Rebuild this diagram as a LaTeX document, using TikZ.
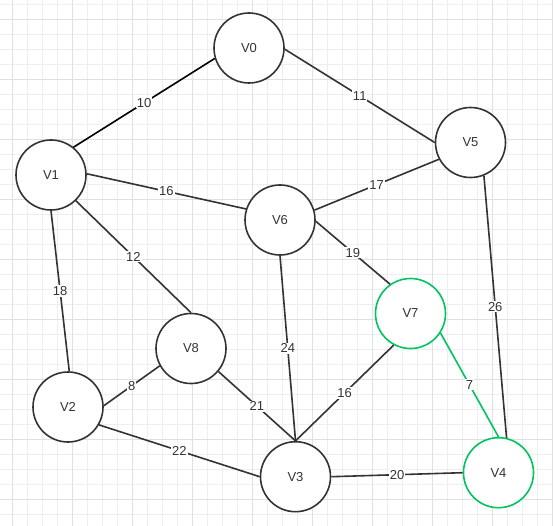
\documentclass[tikz,border=0pt]{standalone}
\usepackage{fontspec}
\setmainfont{Liberation Sans}
\definecolor{gminor}{HTML}{EEEEEE}
\definecolor{gmajor}{HTML}{E0E0E0}
\definecolor{ink}{HTML}{333333}
\definecolor{grn}{RGB}{0,196,96}
\tikzset{
  vert/.style={circle, draw=ink, line width=1.6pt, fill=white, minimum size=70pt, inner sep=0pt, text=ink, font=\fontsize{13pt}{15pt}\selectfont},
  gvert/.style={vert, draw=grn},
  edge/.style={draw=ink, line width=1.6pt},
  gedge/.style={draw=grn, line width=1.6pt},
  lbl/.style={fill=white, inner sep=1pt, text=ink, font=\fontsize{13pt}{15pt}\selectfont}
}
\begin{document}
\begin{tikzpicture}[x=1pt,y=-1pt]
\useasboundingbox (0,0) rectangle (553,526);
\fill[white] (0,0) rectangle (553,526);
% grid
\foreach \x in {12,27,...,552} \draw[gminor, line width=0.9pt] (\x,0) -- (\x,526);
\foreach \y in {4,19,...,525} \draw[gminor, line width=0.9pt] (0,\y) -- (553,\y);
\foreach \x in {12,72,...,552} \draw[gmajor, line width=0.9pt] (\x,0) -- (\x,526);
\foreach \y in {19,79,...,525} \draw[gmajor, line width=0.9pt] (0,\y) -- (553,\y);
% nodes
\node[vert] (V0) at (249,48) {V0};
\node[vert] (V1) at (51,175) {V1};
\node[vert] (V5) at (470.5,142.5) {V5};
\node[vert] (V6) at (280,220) {V6};
\node[gvert] (V7) at (410.5,313.5) {V7};
\node[vert] (V8) at (191,348.5) {V8};
\node[vert] (V2) at (68,407) {V2};
\node[vert] (V3) at (295.5,476.7) {V3};
\node[gvert] (V4) at (498.5,472.7) {V4};
% edges
\draw[edge, draw=black] (V0.197.4) -- node[lbl]{10} (V1.51.6);
\draw[edge] (V0.-2) -- node[lbl]{11} (V5.180);
\draw[edge] (V1.2) -- node[lbl]{16} (V6.162.6);
\draw[edge] (V1.-46) -- node[lbl]{12} (V8.90);
\draw[edge] (V1.-90) -- node[lbl]{18} (V2.88);
\draw[edge] (V6.16) -- node[lbl]{17} (V5.208.3);
\draw[edge] (V6.-2) -- node[lbl]{19} (V7.125.7);
\draw[edge] (V6.-90) -- node[lbl]{24} (V3.90);
\draw[edge] (V5.-68) -- node[lbl]{26} (V4.77.8);
\draw[gedge] (V7.-33) -- node[lbl]{7} (V4.90);
\draw[edge] (V7.242.4) -- node[lbl]{16} (V3.90);
\draw[edge] (V8.209.3) -- node[lbl]{8} (V2.2);
\draw[edge] (V8.-40) -- node[lbl]{21} (V3.90);
\draw[edge] (V2.-30.7) -- node[lbl]{22} (V3.180);
\draw[edge] (V3.0) -- node[lbl]{20} (V4.180);
\end{tikzpicture}
\end{document}
